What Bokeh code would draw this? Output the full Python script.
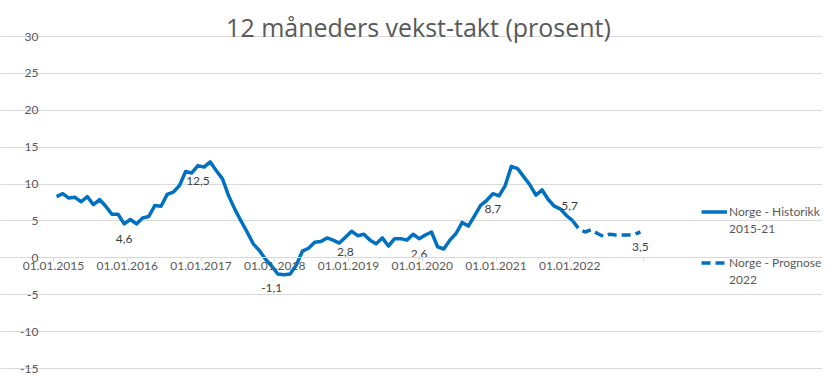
from bokeh.plotting import figure
from bokeh.models import Range1d, FixedTicker, Legend, LegendItem, Label, ColumnDataSource
from bokeh.core.properties import value
from bokeh.embed import file_html
from bokeh.resources import INLINE

title_text = "12 måneders vekst-takt (prosent)"
year_labels = ["01.01.2015", "01.01.2016", "01.01.2017", "01.01.2018",
               "01.01.2019", "01.01.2020", "01.01.2021", "01.01.2022", ""]
y_ticks = [-15, -10, -5, 0, 5, 10, 15, 20, 25, 30]
legend_lines = ["Norge - Historikk", "2015-21", " ", "Norge - Prognose", "2022"]

hist_2015 = [8.3, 8.7, 8.1, 8.2, 7.6, 8.3, 7.2, 7.9, 7.0, 5.9, 5.9, 4.6]
hist_2016 = [5.2, 4.6, 5.4, 5.6, 7.1, 7.0, 8.6, 8.9, 9.8, 11.7, 11.5, 12.5]
hist_2017 = [12.3, 13.0, 11.8, 10.7, 8.4, 6.6, 5.0, 3.5, 1.9, 1.0, -0.2, -1.1]
hist_2018 = [-2.2, -2.3, -2.2, -1.0, 0.9, 1.3, 2.1, 2.2, 2.7, 2.4, 2.0, 2.8]
hist_2019 = [3.6, 3.0, 3.2, 2.4, 1.9, 2.7, 1.6, 2.6, 2.6, 2.4, 3.2, 2.6]
hist_2020 = [3.1, 3.5, 1.5, 1.2, 2.4, 3.3, 4.8, 4.3, 5.7, 7.1, 7.8, 8.7]
hist_2021 = [8.4, 9.8, 12.4, 12.1, 11.0, 9.9, 8.5, 9.2, 7.9, 7.0, 6.6, 5.7]
hist_2022_jan = [5.0]
prognose_2022 = [5.0, 3.9, 3.5, 3.8, 3.3, 2.9, 3.2, 3.1, 3.1, 3.1, 3.2, 3.5]

historikk = (hist_2015 + hist_2016 + hist_2017 + hist_2018 + hist_2019
             + hist_2020 + hist_2021 + hist_2022_jan)
n_hist = len(historikk)
prog_start = n_hist - 1
n_months = 96

hist_x = [i + 0.5 for i in range(n_hist)]
prog_x = [prog_start + i + 0.5 for i in range(len(prognose_2022))]

all_x = hist_x[:-1] + prog_x
all_y = historikk[:-1] + prognose_2022

# December data labels
dec_idx = [11 + 12 * k for k in range(8)]
above_idx = [83]
special_idx = [35]
below_idx = [i for i in dec_idx if i not in above_idx + special_idx]

def fmt(v):
    return f"{v:.1f}".replace(".", ",")

def lab_src(idx):
    return ColumnDataSource(dict(x=[all_x[i] for i in idx],
                                 y=[all_y[i] for i in idx],
                                 t=[fmt(all_y[i]) for i in idx]))

BLUE = "#0070C0"
GRAY = "#595959"
GRID = "#D9D9D9"
FONT = "Lato"

# layout (pixels): plot area inside the canvas
W, H = 822, 374
PL, PR, PT, PB = 53, 643, 36, 368
y_lo, y_hi = min(y_ticks), max(y_ticks)
xs = (PR - PL) / n_months
ys = (PB - PT) / (y_hi - y_lo)
x_range = Range1d(-PL / xs, n_months + (W - PR) / xs)
y_range = Range1d(y_lo - (H - PB) / ys, y_hi + PT / ys)

p = figure(width=W, height=H, output_backend="svg", toolbar_location=None,
           x_range=x_range, y_range=y_range, min_border=0)
p.outline_line_color = None
p.background_fill_color = "white"

p.xgrid.grid_line_color = None
p.ygrid.grid_line_color = GRID
p.ygrid.grid_line_width = 1
p.ygrid.ticker = FixedTicker(ticks=y_ticks)
p.ygrid.bounds = (0, n_months)

yax = p.yaxis[0]
yax.fixed_location = 0
yax.bounds = (y_lo, y_hi)
yax.ticker = FixedTicker(ticks=y_ticks)
yax.major_label_overrides = {t: str(t) for t in y_ticks}
yax.axis_line_color = None
yax.major_tick_line_color = None
yax.minor_tick_line_color = None
yax.major_label_standoff = 9
yax.major_label_text_font = FONT
yax.major_label_text_font_size = "12px"
yax.major_label_text_color = GRAY

xax = p.xaxis[0]
xax.fixed_location = 0
xax.bounds = (0, n_months)
xax.ticker = FixedTicker(ticks=[12 * k for k in range(9)])
xax.major_label_overrides = {12 * k: lab for k, lab in enumerate(year_labels)}
xax.axis_line_color = GRID
xax.major_tick_line_color = GRID
xax.major_tick_in = 0
xax.major_tick_out = 4
xax.minor_tick_line_color = None
xax.major_label_standoff = 0
xax.major_label_text_font = FONT
xax.major_label_text_font_size = "12px"
xax.major_label_text_color = GRAY

r_hist = p.line(hist_x, historikk, line_color=BLUE, line_width=3.5, line_join="round")
r_prog = p.line(prog_x, prognose_2022, line_color=BLUE, line_width=3.5, line_dash="9 5")
r_none = p.line(hist_x[:1], historikk[:1], line_alpha=0)

common = dict(text_font=value(FONT), text_font_size="12px", text_color="#404040",
              text_align="center", text_baseline="middle")
p.text(x="x", y="y", text="t", source=lab_src(below_idx), y_offset=15, **common)
p.text(x="x", y="y", text="t", source=lab_src(special_idx), y_offset=22, **common)
p.text(x="x", y="y", text="t", source=lab_src(above_idx), y_offset=-10, x_offset=3, **common)

p.add_layout(Label(x=418, y=348, x_units="screen", y_units="screen", text=title_text,
                   text_font="Open Sans", text_font_size="25px", text_color=GRAY,
                   text_align="center", text_baseline="alphabetic"))

leg_renderers = [r_hist, r_none, r_none, r_prog, r_none]
legend = Legend(items=[LegendItem(label=t, renderers=[r]) for t, r in zip(legend_lines, leg_renderers)],
                location=(701, 86), margin=0, padding=0, spacing=0,
                border_line_color=None, background_fill_alpha=0,
                glyph_width=26, glyph_height=17, label_height=17, label_standoff=2,
                label_text_font=FONT, label_text_font_size="12px", label_text_color=GRAY)
p.add_layout(legend, "center")

open("out.html", "w").write(file_html(p, INLINE))
